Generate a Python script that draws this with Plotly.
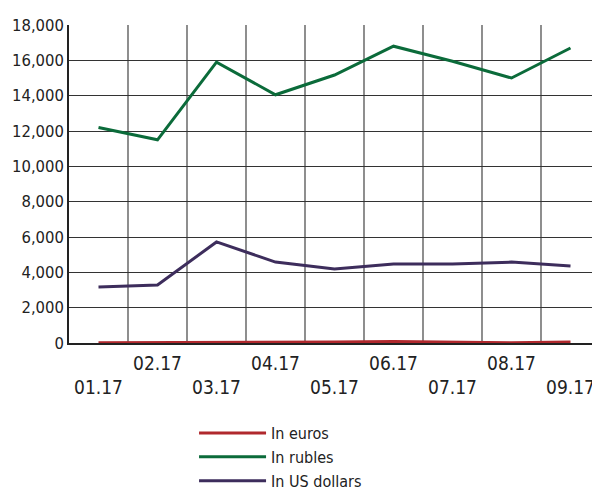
import plotly.graph_objects as go

months = ['01.17', '02.17', '03.17', '04.17', '05.17', '06.17', '07.17', '08.17', '09.17']
euros = [20, 20, 20, 30, 50, 80, 40, 10, 60]
rubles = [12200, 11500, 15900, 14050, 15170, 16800, 15950, 15000, 16700]
dollars = [3170, 3280, 5720, 4580, 4190, 4470, 4470, 4580, 4360]

font = 'DejaVu Sans Condensed, Liberation Sans Narrow, sans-serif'

fig = go.Figure()
fig.add_trace(go.Scatter(x=list(range(len(months))), y=euros, name='In euros',
                         mode='lines', line=dict(color='#b0282d', width=3)))
fig.add_trace(go.Scatter(x=list(range(len(months))), y=rubles, name='In rubles',
                         mode='lines', line=dict(color='#0b6b3a', width=3)))
fig.add_trace(go.Scatter(x=list(range(len(months))), y=dollars, name='In US dollars',
                         mode='lines', line=dict(color='#3d2d5c', width=3)))

# staggered labels: even months on the upper row, odd months on the lower row
ticktext = [m if i % 2 == 1 else ' <br>' + m for i, m in enumerate(months)]

fig.update_xaxes(range=[-0.5, 8.5], tickvals=list(range(len(months))), ticktext=ticktext,
                 showgrid=False, showline=True, linecolor='#222', linewidth=1.5,
                 ticks='', zeroline=False, fixedrange=True, automargin=False,
                 tickfont=dict(size=19), ticklabelstandoff=2)
# category boundary grid lines
for i in range(len(months) - 1):
    fig.add_vline(x=i + 0.5, line=dict(color='#444', width=1.2), layer='below')

fig.update_yaxes(range=[0, 18000], dtick=2000, tickformat=',', showgrid=True,
                 gridcolor='#333', gridwidth=1.2, showline=True, linecolor='#222',
                 linewidth=1.5, zeroline=False, ticks='', fixedrange=True, automargin=False,
                 tickfont=dict(size=16.5))

# the page adds an 8px body margin, so the figure is 8px smaller on each axis
fig.update_layout(
    width=592, height=485,
    margin=dict(l=61, r=0, t=17, b=150, autoexpand=False),
    plot_bgcolor='white', paper_bgcolor='white',
    font=dict(family=font, size=18, color='#222'),
    legend=dict(x=0.2355, y=-0.23, xanchor='left', yanchor='top', orientation='v',
                font=dict(size=16), tracegroupgap=0, itemwidth=67),
    showlegend=True,
)

fig.write_html('out.html')
